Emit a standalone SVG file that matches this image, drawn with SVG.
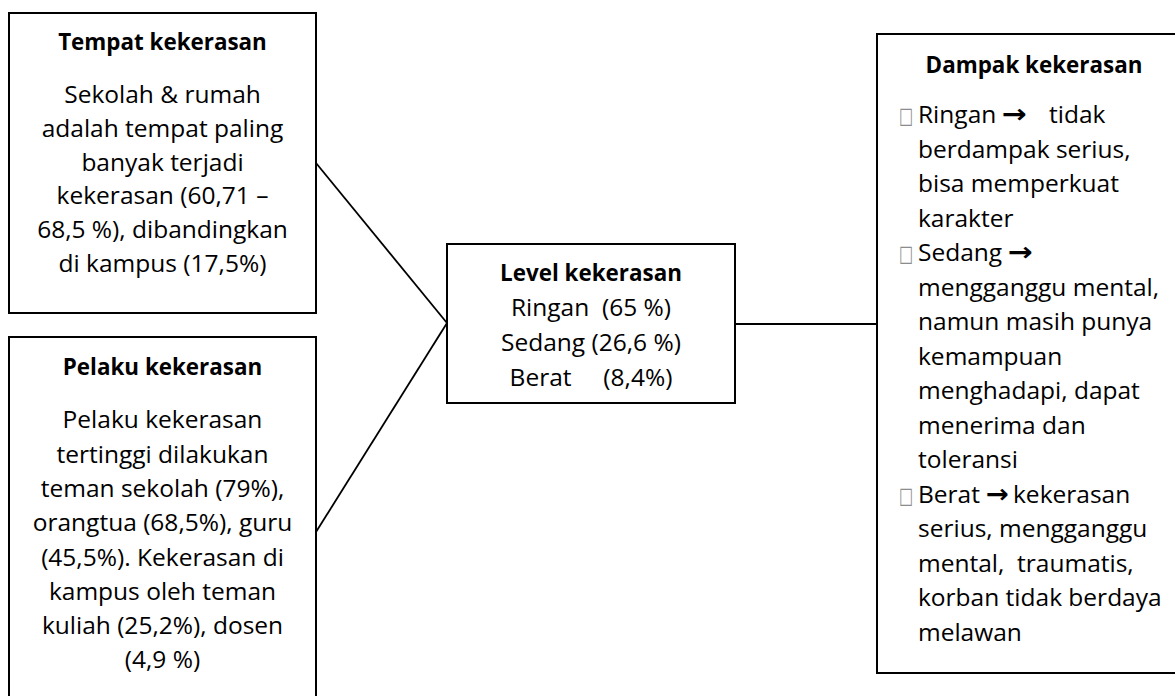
<svg xmlns="http://www.w3.org/2000/svg" width="1175" height="696" viewBox="0 0 1175 696">
  <style>
    .box { fill: #ffffff; stroke: #000000; stroke-width: 2; }
    .link { stroke: #000000; stroke-width: 1.8; fill: none; }
    text { font-family: "Open Sans", "Noto Sans", "Liberation Sans", sans-serif; fill: #000000; }
    .title { font-size: 22.4px; font-weight: 700; text-anchor: middle; }
    .body { font-size: 24.5px; text-anchor: middle; white-space: pre; }
    .list { font-size: 24.5px; white-space: pre; }
    .bullet { font-family: "DejaVu Sans", sans-serif; font-size: 22px; fill: #8c8c8c; }
    .arrow { font-family: "DejaVu Sans", sans-serif; font-weight: 700; font-size: 26px; }
  </style>

  <rect width="1175" height="696" fill="#ffffff"/>

  <!-- connectors -->
  <g id="connectors">
    <line class="link" x1="316" y1="163" x2="447" y2="323"/>
    <line class="link" x1="316" y1="532" x2="447" y2="323"/>
    <line class="link" x1="735" y1="324" x2="877" y2="324"/>
  </g>

  <!-- place of violence -->
  <g id="tempat">
    <rect class="box" x="9" y="13" width="307" height="300"/>
    <text class="title" x="162.5" y="50">Tempat kekerasan</text>
    <text class="body" x="162.5" y="103.3">Sekolah &amp; rumah</text>
    <text class="body" x="162.5" y="137">adalah tempat paling</text>
    <text class="body" x="162.5" y="170.7">banyak terjadi</text>
    <text class="body" x="162.5" y="204.4">kekerasan (60,71 –</text>
    <text class="body" x="162.5" y="238">68,5 %), dibandingkan</text>
    <text class="body" x="162.5" y="272">di kampus (17,5%)</text>
  </g>

  <!-- perpetrators -->
  <g id="pelaku">
    <rect class="box" x="9" y="337" width="307" height="380"/>
    <text class="title" x="162.5" y="375">Pelaku kekerasan</text>
    <text class="body" x="162.5" y="428.3">Pelaku kekerasan</text>
    <text class="body" x="162.5" y="462.6">tertinggi dilakukan</text>
    <text class="body" x="162.5" y="496.9">teman sekolah (79%),</text>
    <text class="body" x="162.5" y="531.2">orangtua (68,5%), guru</text>
    <text class="body" x="162.5" y="565.5">(45,5%). Kekerasan di</text>
    <text class="body" x="162.5" y="599.8">kampus oleh teman</text>
    <text class="body" x="162.5" y="634.1">kuliah (25,2%), dosen</text>
    <text class="body" x="162.5" y="668.4">(4,9 %)</text>
  </g>

  <!-- severity level -->
  <g id="level">
    <rect class="box" x="447" y="244" width="288" height="159"/>
    <text class="title" x="591" y="281">Level kekerasan</text>
    <text class="body" x="591" y="316">Ringan  (65 %)</text>
    <text class="body" x="591" y="351">Sedang (26,6 %)</text>
    <text class="body" x="591" y="386">Berat     (8,4%)</text>
  </g>

  <!-- impact -->
  <g id="dampak">
    <rect class="box" x="877" y="34" width="314" height="639"/>
    <text class="title" x="1034" y="73">Dampak kekerasan</text>

    <text class="bullet" x="899" y="123" textLength="14" lengthAdjust="spacingAndGlyphs">□</text>
    <text class="list" x="918" y="123">Ringan</text>
    <text class="arrow" x="1002" y="123" textLength="25" lengthAdjust="spacingAndGlyphs">→</text>
    <text class="list" x="1049" y="123">tidak</text>
    <text class="list" x="918" y="157.5">berdampak serius,</text>
    <text class="list" x="918" y="192">bisa memperkuat</text>
    <text class="list" x="918" y="226.5">karakter</text>

    <text class="bullet" x="899" y="261" textLength="14" lengthAdjust="spacingAndGlyphs">□</text>
    <text class="list" x="918" y="261">Sedang</text>
    <text class="arrow" x="1008" y="261" textLength="25" lengthAdjust="spacingAndGlyphs">→</text>
    <text class="list" x="918" y="295.5">mengganggu mental,</text>
    <text class="list" x="918" y="330">namun masih punya</text>
    <text class="list" x="918" y="364.5">kemampuan</text>
    <text class="list" x="918" y="399">menghadapi, dapat</text>
    <text class="list" x="918" y="433.5">menerima dan</text>
    <text class="list" x="918" y="468">toleransi</text>

    <text class="bullet" x="899" y="502.5" textLength="14" lengthAdjust="spacingAndGlyphs">□</text>
    <text class="list" x="918" y="502.5">Berat</text>
    <text class="arrow" x="986" y="502.5" textLength="23" lengthAdjust="spacingAndGlyphs">→</text>
    <text class="list" x="1013" y="502.5">kekerasan</text>
    <text class="list" x="918" y="537">serius, mengganggu</text>
    <text class="list" x="918" y="571.5">mental,  traumatis,</text>
    <text class="list" x="918" y="606">korban tidak berdaya</text>
    <text class="list" x="918" y="640.5">melawan</text>
  </g>
</svg>
